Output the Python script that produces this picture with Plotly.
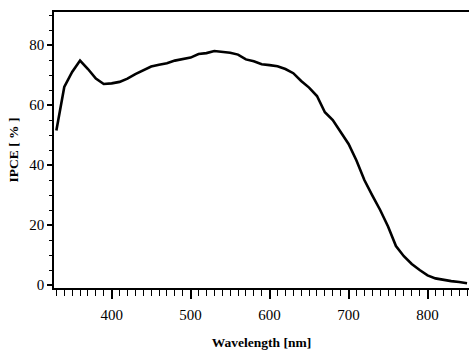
import plotly.graph_objects as go

wavelength = [330, 340, 350, 360, 370, 380, 390, 400, 410, 420, 430, 440, 450, 460, 470,
              480, 490, 500, 510, 520, 530, 540, 550, 560, 570, 580, 590, 600, 610, 620,
              630, 640, 650, 660, 670, 680, 690, 700, 710, 720, 730, 740, 750, 760, 770,
              780, 790, 800, 810, 820, 830, 840, 850]
ipce = [51.5, 66, 71, 74.8, 72, 68.8, 67, 67.2, 67.7, 68.8, 70.3, 71.5, 72.8, 73.4, 73.9,
        74.8, 75.2, 75.8, 77, 77.3, 78, 77.8, 77.4, 76.8, 75.2, 74.6, 73.6, 73.3, 72.9, 72,
        70.6, 68, 65.8, 63, 57.6, 55, 50.8, 47, 41.5, 35, 29.9, 25, 19.5, 13, 9.6,
        7, 5, 3.2, 2.2, 1.7, 1.3, 1, 0.6]

x_ticks = [400, 500, 600, 700, 800]
y_ticks = [0, 20, 40, 60, 80]

font_serif = "Liberation Serif, Times New Roman, serif"

fig = go.Figure()
fig.add_trace(go.Scatter(x=wavelength, y=ipce, mode="lines",
                         line=dict(color="black", width=2.6), showlegend=False,
                         hoverinfo="skip"))

fig.update_layout(
    width=469, height=352,
    margin=dict(l=54, r=0, t=12, b=64, autoexpand=False),
    paper_bgcolor="white", plot_bgcolor="white",
    font=dict(family=font_serif, color="black", size=13),
    xaxis=dict(
        range=[327, 852.5], tickvals=x_ticks, ticks="outside", ticklen=9, tickwidth=1.5,
        tickcolor="black", showline=True, linecolor="black", linewidth=2, mirror=True,
        showgrid=False, zeroline=False, automargin=False, ticklabelstandoff=3,
        minor=dict(dtick=10, tick0=0, ticks="outside", ticklen=6, tickwidth=1, tickcolor="black"),
        title=dict(text="<b>Wavelength [nm]</b>", font=dict(size=13.5), standoff=16),
        tickfont=dict(size=15),
    ),
    yaxis=dict(
        range=[-1, 91], tickvals=y_ticks, ticks="outside", ticklen=5, tickwidth=1.5,
        tickcolor="black", showline=True, linecolor="black", linewidth=1.5,
        showgrid=False, zeroline=False, automargin=False,
        minor=dict(dtick=5, tick0=0, ticks="outside", ticklen=3, tickwidth=1, tickcolor="black"),
        title=dict(text="<b>IPCE [ % ]</b>", font=dict(size=13.5), standoff=8),
        tickfont=dict(size=15),
    ),
)

fig.write_html("out.html", config={"displayModeBar": False},
               post_script="document.body.style.margin='0';document.body.style.overflow='hidden';")
